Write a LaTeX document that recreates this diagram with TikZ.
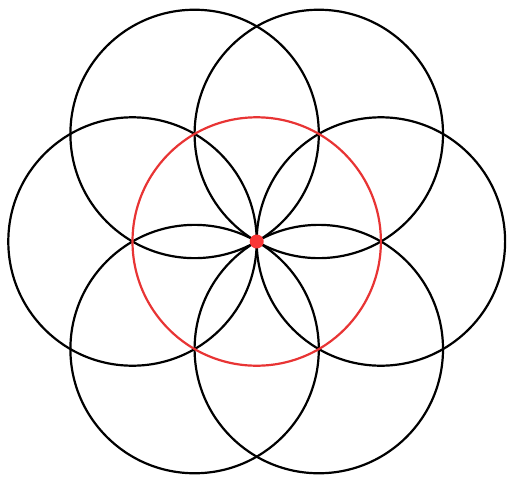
\documentclass[tikz,border=0pt]{standalone}
\usetikzlibrary{calc}
\definecolor{redline}{RGB}{232,52,52}
\definecolor{reddot}{RGB}{250,55,55}
\tikzset{petal/.style={draw=black,line width=2.2pt},
  mid/.style={draw=redline,line width=2.2pt},
  dot/.style={circle,fill=reddot,inner sep=0pt,minimum size=14pt}}
\begin{document}
\begin{tikzpicture}[x=1pt,y=-1pt]
\useasboundingbox (0,0) rectangle (513,490);
\coordinate (c) at (256.7,241.5);
\foreach \a in {0,60,...,300}{
  \draw[petal] ($(c)+(\a:124.2)$) circle[radius=124.2];
}
\draw[mid] (c) circle[radius=124.2];
\node[dot] (o) at (c) {};
\end{tikzpicture}
\end{document}
